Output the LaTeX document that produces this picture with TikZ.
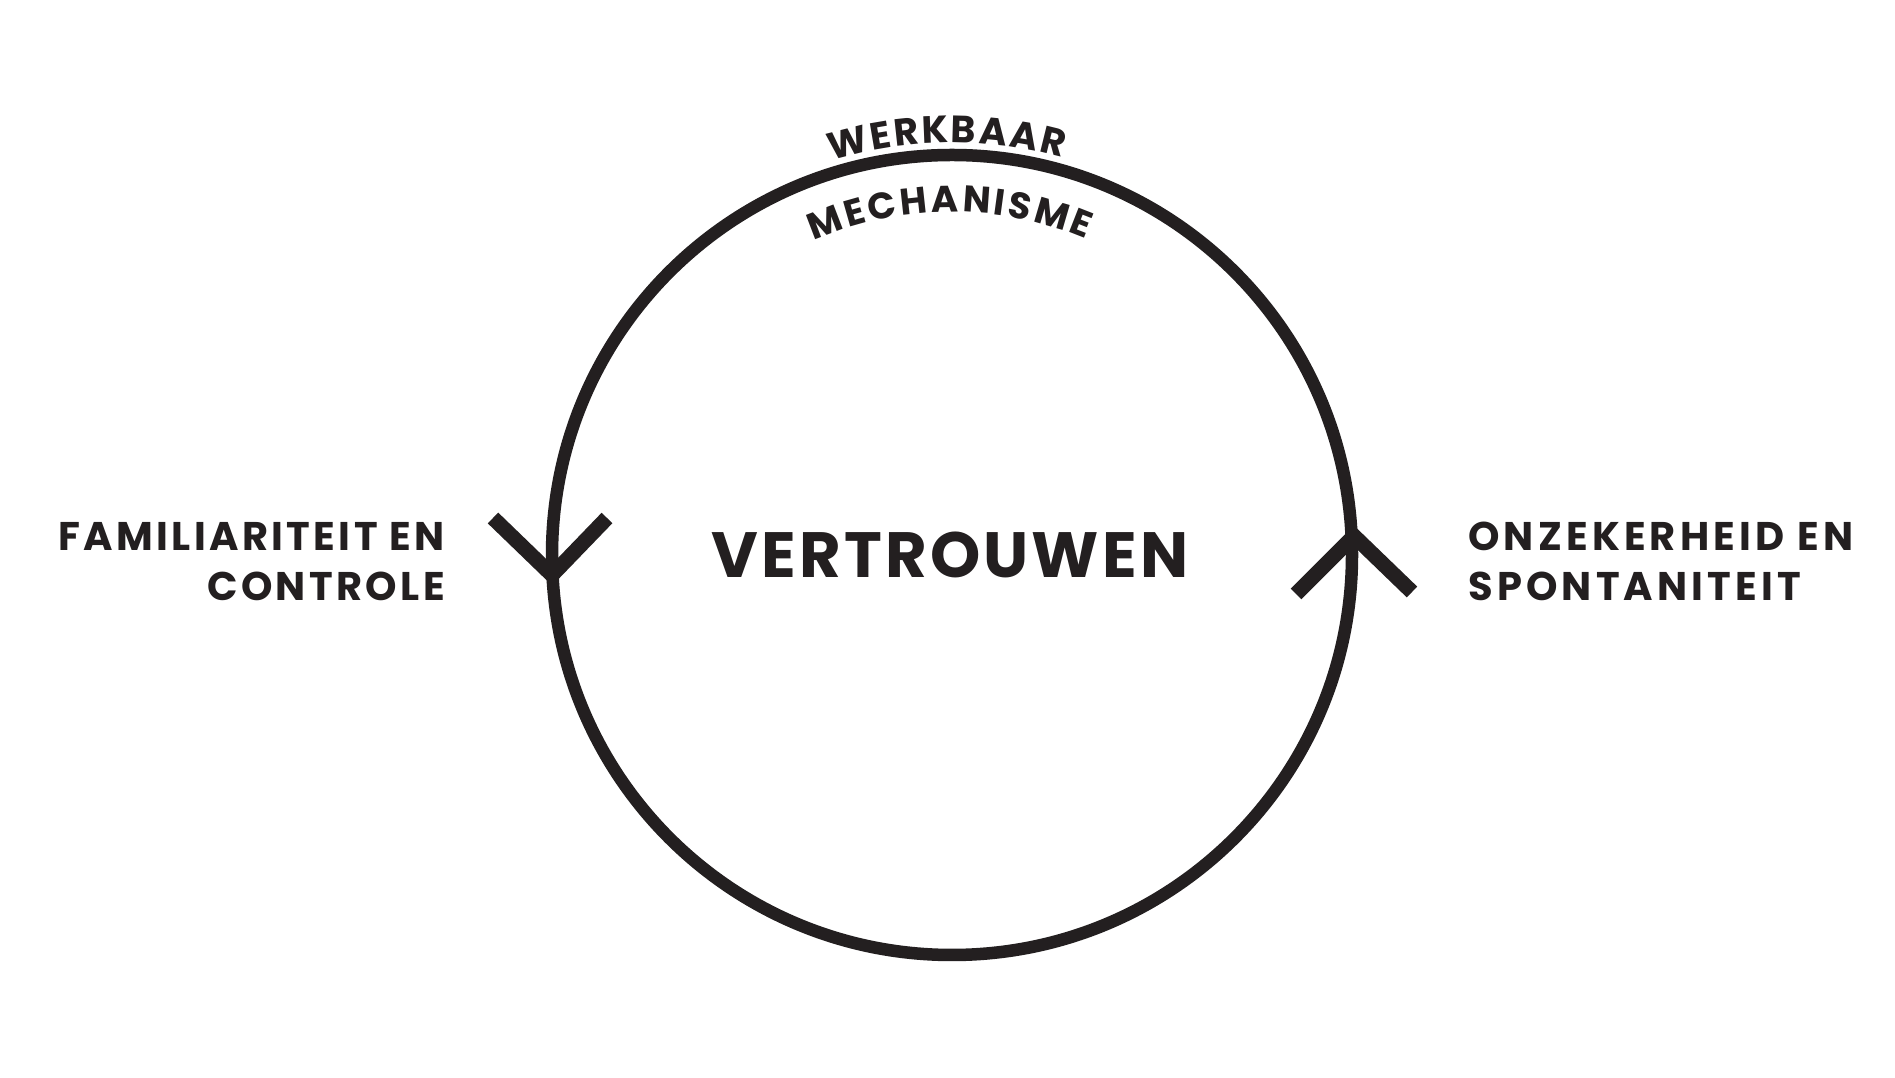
\documentclass[tikz,border=0pt]{standalone}
\usepackage{fontspec}
\setmainfont{Poppins}
\usetikzlibrary{decorations.text}
\definecolor{ink}{HTML}{231F20}
\begin{document}
\begin{tikzpicture}[x=1pt,y=1pt,
  ringline/.style={draw=ink,line width=12.5pt},
  arrowarm/.style={draw=ink,line width=15pt,line cap=butt,line join=miter},
  bigtext/.style={inner sep=0pt,text=ink,font=\bfseries\fontsize{64}{70}\selectfont\addfontfeature{LetterSpace=5}},
  sidetext/.style={inner sep=0pt,text=ink,font=\bfseries\fontsize{40}{50}\selectfont\addfontfeature{LetterSpace=8.5}},
  sidetextwide/.style={inner sep=0pt,text=ink,font=\bfseries\fontsize{40}{50}\selectfont\addfontfeature{LetterSpace=10.5}}]
\useasboundingbox[fill=white] (0,0) rectangle (1895,1078);
\coordinate (c) at (952,523);
\draw[ringline] (c) circle[radius=400];
% arrows
\coordinate (la1) at (493,560);
\coordinate (la2) at (552,503);
\coordinate (la3) at (607,560);
\draw[arrowarm] (la1) -- (la2) -- (la3);
\coordinate (ra1) at (1296,484);
\coordinate (ra2) at (1354,542);
\coordinate (ra3) at (1412,486);
\draw[arrowarm] (ra1) -- (ra2) -- (ra3);
% texts
\node[bigtext] (center) at (950,523) {VERTROUWEN};
\node[sidetext,align=right,anchor=north east] (left) at (445,556) {FAMILIARITEIT EN\\CONTROLE};
\node[sidetextwide,align=left,anchor=north west] (right) at (1468,556) {ONZEKERHEID EN\\SPONTANITEIT};
\path[decorate,decoration={text along path,text color=ink,
  text={|\bfseries\fontsize{38}{40}\selectfont|WERKBAAR},text align={fit to path}}]
  (c) ++(107:412) arc[start angle=107,end angle=74.5,radius=412];
\path[decorate,decoration={text along path,text color=ink,
  text={|\bfseries\fontsize{37}{40}\selectfont|MECHANISME},text align={fit to path}}]
  (c) ++(113.7:343) arc[start angle=113.7,end angle=67,radius=343];
\end{tikzpicture}
\end{document}
